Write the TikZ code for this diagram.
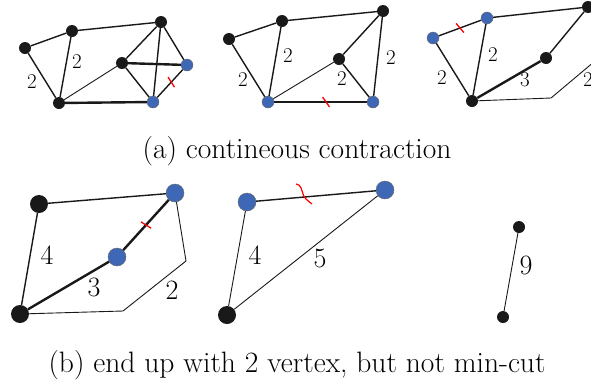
\documentclass[tikz,border=0pt]{standalone}
\usetikzlibrary{calc}
\definecolor{vblue}{RGB}{62,104,182}
\definecolor{vblack}{RGB}{25,25,25}
\begin{document}
\begin{tikzpicture}[x=1pt,y=-1pt,
  sv/.style={circle,fill=vblack,inner sep=0,minimum size=12pt},
  sb/.style={circle,fill=vblue,draw=black!60,line width=0.4pt,inner sep=0,minimum size=12pt},
  bv/.style={circle,fill=vblack,inner sep=0,minimum size=18pt},
  bb/.style={circle,fill=vblue,draw=black!60,line width=0.4pt,inner sep=0,minimum size=18pt},
  edg/.style={line width=1.4pt,draw=vblack},
  thk/.style={line width=2.4pt,draw=vblack},
  thn/.style={line width=0.9pt,draw=vblack},
  cutmark/.style={sloped,draw=red,line width=1.3pt,shape=rectangle,inner sep=0,minimum width=0pt,minimum height=12pt},
  slab/.style={font=\fontsize{21}{24}\selectfont,inner sep=0},
  blab/.style={font=\fontsize{28}{32}\selectfont,inner sep=0},
  captext/.style={font=\fontsize{29.5}{34}\selectfont,anchor=base,inner sep=0}]
\useasboundingbox (0,0) rectangle (591,389);
\clip (0,0) rectangle (591,389);
% ---------- panel a1 ----------
\node[sv] (a1A) at (25,48) {};
\node[sv] (a1B) at (72,31) {};
\node[sv] (a1C) at (161,22) {};
\node[sv] (a1D) at (122,63) {};
\node[sb] (a1E) at (187,65) {};
\node[sb] (a1F) at (153,102) {};
\node[sv] (a1G) at (59,103) {};
\draw[edg] (a1A) -- (a1B);
\draw[edg] (a1A) -- (a1G);
\draw[edg] (a1B) -- (a1G);
\draw[edg] (a1B) -- (a1C);
\draw[edg] (a1C) -- (a1D);
\draw[edg] (a1C) -- (a1F);
\draw[edg] (a1C) -- (a1E);
\draw[thk] (a1D) -- (a1E);
\draw[edg] (a1D) -- (a1F);
\draw[edg] (a1E) -- node[cutmark,pos=0.45,rotate=-15]{} (a1F);
\draw[thn] (a1G) -- (a1D);
\draw[thk] (a1G) -- (a1F);
\node[slab] at (32,82) {2};
\node[slab] at (77,62) {2};
% ---------- panel a2 ----------
\node[sv] (a2A) at (229,39) {};
\node[sv] (a2B) at (282,21) {};
\node[sv] (a2C) at (383,11) {};
\node[sv] (a2D) at (339,59) {};
\node[sb] (a2F) at (373,102) {};
\node[sb] (a2G) at (268,102) {};
\draw[edg] (a2A) -- (a2B);
\draw[edg] (a2A) -- (a2G);
\draw[edg] (a2B) -- (a2G);
\draw[edg] (a2B) -- (a2C);
\draw[edg] (a2C) -- (a2D);
\draw[edg] (a2C) -- (a2F);
\draw[edg] (a2D) -- (a2F);
\draw[thn] (a2G) -- (a2D);
\draw[thk] (a2G) -- node[cutmark,pos=0.56,rotate=35]{} (a2F);
\node[slab] at (243,80) {2};
\node[slab] at (288,56) {2};
\node[slab] at (391,58) {2};
\node[slab] at (342,79) {2};
% ---------- panel a3 ----------
\node[sb] (a3A) at (433,38) {};
\node[sb] (a3B) at (487,18) {};
\node[sv] (a3C) at (588,7) {};
\node[sv] (a3D) at (546,58) {};
\node[sv] (a3G) at (472,101) {};
\coordinate (a3k) at (551,98);
\coordinate (a3o) at (620,40);
\draw[edg] (a3A) -- node[cutmark,rotate=20]{} (a3B);
\draw[edg] (a3A) -- (a3G);
\draw[edg] (a3B) -- (a3G);
\draw[edg] (a3B) -- (a3C);
\draw[edg] (a3C) -- (a3D);
\draw[thk] (a3G) -- (a3D);
\draw[thn] (a3G) -- (a3k) -- (a3o);
\node[slab] at (442,78) {2};
\node[slab] at (493,55) {2};
\node[slab] at (525,80) {3};
\node[slab] at (588,80) {2};
% ---------- caption a ----------
\node[captext] (capa) at (297,158) {(a) contineous contraction};
% ---------- panel b1 ----------
\node[bv] (b1A) at (39,204) {};
\node[bb] (b1B) at (175,193) {};
\node[bb] (b1M) at (117,257) {};
\node[bv] (b1G) at (20,314) {};
\coordinate (b1k) at (186,261);
\coordinate (b1l) at (123,311);
\draw[edg] (b1A) -- (b1B);
\draw[edg] (b1A) -- (b1G);
\draw[thk] (b1G) -- (b1M);
\draw[thk] (b1M) -- node[cutmark,pos=0.5,rotate=10]{} (b1B);
\draw[thn] (b1B) -- (b1k) -- (b1l) -- (b1G);
\node[blab] at (47,255) {4};
\node[blab] at (94,287) {3};
\node[blab] at (172,290) {2};
% ---------- panel b2 ----------
\node[bb] (b2A) at (247,202) {};
\node[bb] (b2B) at (385,190) {};
\node[bv] (b2G) at (227,315) {};
\draw[edg] (b2A) -- (b2B);
\draw[red,line width=1.2pt] (296,184) .. controls (301,184) and (302,191) .. (303,194) .. controls (304,198) and (307,200) .. (312,204);
\draw[thn] (b2A) -- (b2G);
\draw[thn] (b2B) -- (b2G);
\node[blab] at (255,255) {4};
\node[blab] at (320,258) {5};
% ---------- panel b3 ----------
\node[sv] (b3T) at (519,227) {};
\node[sv] (b3B) at (503,317) {};
\draw[thn] (b3T) -- (b3B);
\node[blab] at (526,265) {9};
% ---------- caption b ----------
\node[captext] (capb) at (297,372) {(b) end up with 2 vertex, but not min-cut};
\end{tikzpicture}
\end{document}
